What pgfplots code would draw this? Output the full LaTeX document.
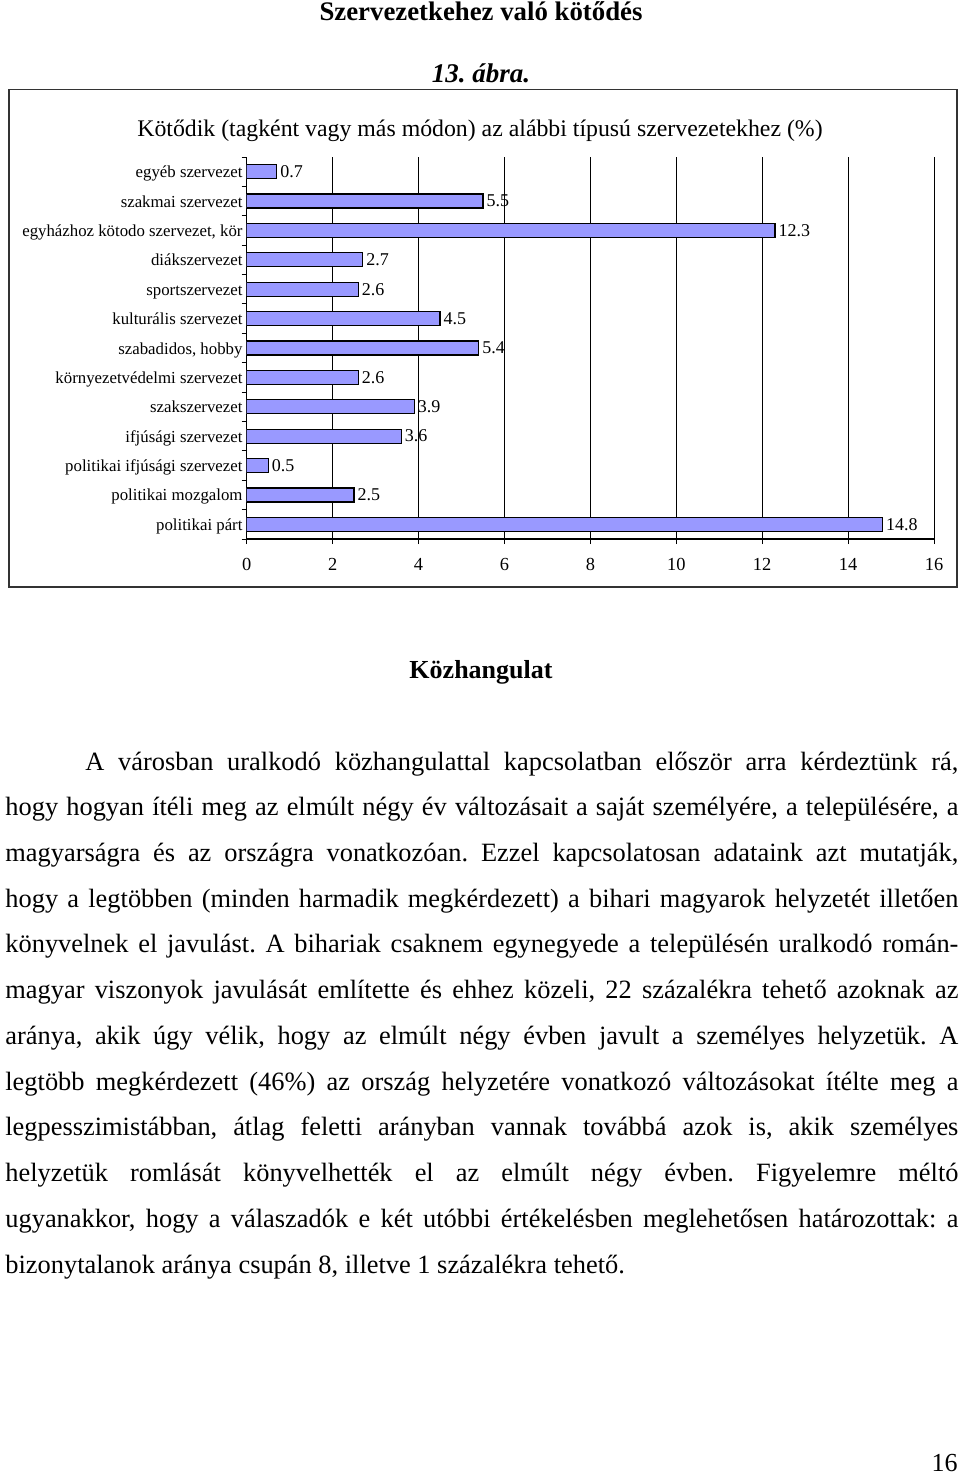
\documentclass[border=0pt]{standalone}
\usepackage{fontspec}
\setmainfont{Liberation Serif}
\usepackage{pgfplots}
\pgfplotsset{compat=1.18}
\definecolor{barblue}{HTML}{9999FF}
\newcommand\bodyfont{\fontsize{13.2}{15}\selectfont\frenchspacing}
\newcommand\J[1]{\makebox[476.5pt][s]{#1}}
\begin{document}
\frenchspacing
\begin{tikzpicture}
\path[use as bounding box] (0,0) rectangle (480pt,-737pt);
\begin{scope}[x=0.5pt,y=-0.5pt]
\draw[black!80, line width=0.75pt] (9,89.5) rectangle (957,587);
\node[anchor=base, inner sep=0, font=\fontsize{13.4}{15}\selectfont\bfseries] at (481,20) {Szervezetkehez való kötődés};
\node[anchor=base, inner sep=0, font=\fontsize{13.5}{15}\selectfont\bfseries\itshape] at (481,82) {13. ábra.};
\node[anchor=base, inner sep=0, font=\fontsize{11.9}{13}\selectfont] at (480,136) {Kötődik (tagként vagy más módon) az alábbi típusú szervezetekhez (\%)};
\node[anchor=base, inner sep=0, font=\fontsize{13}{15}\selectfont\bfseries] at (481,678) {Közhangulat};
\begin{scope}[every node/.style={anchor=base west, inner sep=0, font=\bodyfont}]
\node at (85,770) {\makebox[436.5pt][s]{A városban uralkodó közhangulattal kapcsolatban először arra kérdeztünk rá,}};
\node at (5,815.7) {\J{hogy hogyan ítéli meg az elmúlt négy év változásait a saját személyére, a településére, a}};
\node at (5,861.5) {\J{magyarságra és az országra vonatkozóan. Ezzel kapcsolatosan adataink azt mutatják,}};
\node at (5,907.2) {\J{hogy a legtöbben (minden harmadik megkérdezett) a bihari magyarok helyzetét illetően}};
\node at (5,952.9) {\J{könyvelnek el javulást. A bihariak csaknem egynegyede a településén uralkodó román-}};
\node at (5,998.7) {\J{magyar viszonyok javulását említette és ehhez közeli, 22 százalékra tehető azoknak az}};
\node at (5,1044.4) {\J{aránya, akik úgy vélik, hogy az elmúlt négy évben javult a személyes helyzetük. A}};
\node at (5,1090.1) {\J{legtöbb megkérdezett (46\%) az ország helyzetére vonatkozó változásokat ítélte meg a}};
\node at (5,1135.8) {\J{legpesszimistábban, átlag feletti arányban vannak továbbá azok is, akik személyes}};
\node at (5,1181.6) {\J{helyzetük romlását könyvelhették el az elmúlt négy évben. Figyelemre méltó}};
\node at (5,1227.3) {\J{ugyanakkor, hogy a válaszadók e két utóbbi értékelésben meglehetősen határozottak: a}};
\node at (5,1273) {bizonytalanok aránya csupán 8, illetve 1 százalékra tehető.};
\end{scope}
\node[anchor=base east, inner sep=0, font=\fontsize{13}{15}\selectfont] at (958,1471) {16};
\end{scope}
\begin{axis}[
  at={(123.35pt,-269.5pt)}, anchor=south west,
  scale only axis, width=343.65pt, height=191pt,
  xbar, bar width=7pt,
  xmin=0, xmax=16, ymin=-0.5, ymax=12.5,
  axis x line*=bottom, axis y line*=left,
  axis line style={line width=0.6pt},
  xtick={0,2,...,16}, xticklabels={0,2,4,6,8,10,12,14,16},
  xmajorgrids, grid style={black, line width=0.5pt},
  ytick={0,...,12},
  yticklabels={politikai párt, politikai mozgalom, politikai ifjúsági szervezet, ifjúsági szervezet, szakszervezet, környezetvédelmi szervezet, {szabadidos, hobby}, kulturális szervezet, sportszervezet, diákszervezet, {egyházhoz kötodo szervezet, kör}, szakmai szervezet, egyéb szervezet},
  minor ytick={-0.5,0.5,...,12.5},
  major y tick style={draw=none},
  tick align=outside, major tick length=2.5pt, minor tick length=2.5pt,
  tick style={black, line width=0.5pt},
  xticklabel style={font=\rmfamily\fontsize{9.2}{10}\selectfont, text height=6.5pt, text depth=0pt, yshift=-3pt},
  yticklabel style={font=\rmfamily\fontsize{8.4}{9}\selectfont, inner xsep=0pt, xshift=0.6pt, text height=0.7em, text depth=0.2em, yshift=-0.5pt},
  point meta=explicit symbolic,
  nodes near coords,
  nodes near coords style={font=\rmfamily\fontsize{9}{10}\selectfont, anchor=west, inner xsep=1.5pt, text=black},
]
\addplot[fill=barblue, draw=black, line width=0.6pt] coordinates {(14.8,0) [14.8] (2.5,1) [2.5] (0.5,2) [0.5] (3.6,3) [3.6] (3.9,4) [3.9] (2.6,5) [2.6] (5.4,6) [5.4] (4.5,7) [4.5] (2.6,8) [2.6] (2.7,9) [2.7] (12.3,10) [12.3] (5.5,11) [5.5] (0.7,12) [0.7]};
\end{axis}
\end{tikzpicture}
\end{document}
